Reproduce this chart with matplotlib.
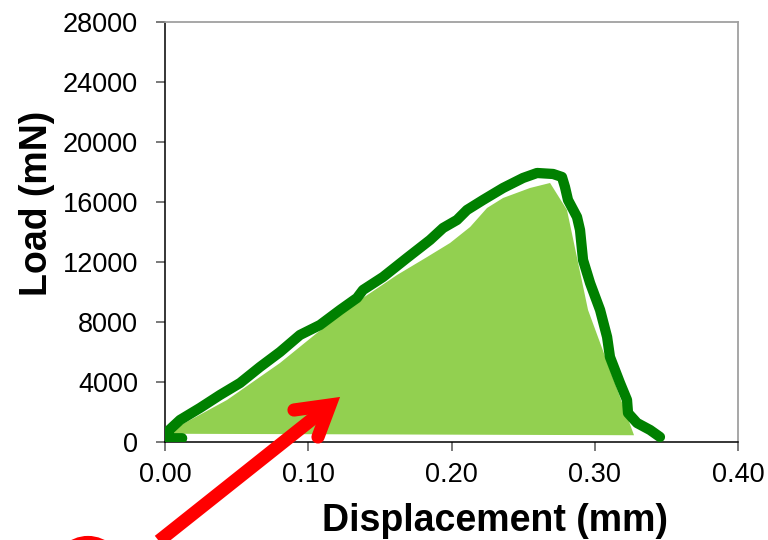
import matplotlib
matplotlib.use("Agg")
import matplotlib.pyplot as plt
from matplotlib.lines import Line2D
from matplotlib.patches import Circle
from matplotlib.ticker import FormatStrFormatter

plt.rcParams['font.family'] = ['Liberation Sans', 'DejaVu Sans']

# Measured load-displacement curve
disp_mm = [0.012, 0.002, 0.003, 0.0105, 0.0244, 0.0384, 0.0524, 0.0663, 0.0803, 0.0942,
           0.1082, 0.1222, 0.134, 0.1382, 0.1522, 0.1689, 0.185, 0.1941, 0.2038,
           0.2108, 0.222, 0.236, 0.2499, 0.2597, 0.2709, 0.2771, 0.2792, 0.2813,
           0.2876, 0.2897, 0.2918, 0.2967, 0.3037, 0.3086, 0.3106, 0.3176, 0.3225,
           0.3232, 0.3295, 0.3386, 0.3455]
load_mN = [250, 250, 800, 1467, 2267, 3133, 3933, 5000, 6000, 7133,
           7800, 8800, 9600, 10133, 11000, 12267, 13467, 14267, 14800,
           15467, 16133, 16933, 17600, 17933, 17867, 17667, 17000, 16133,
           15000, 14133, 12133, 10600, 8800, 7000, 5667, 3933, 2800,
           1933, 1267, 800, 333]

# Shaded work-of-fracture area
area_disp = [0.0, 0.0433, 0.0803, 0.1061, 0.1361, 0.162, 0.183, 0.199, 0.213,
             0.2248, 0.236, 0.2548, 0.2688, 0.2806, 0.2953, 0.3274]
area_load = [550, 2800, 5267, 7267, 9467, 11133, 12333, 13267, 14333,
             15600, 16267, 16933, 17267, 15467, 8800, 450]

x_ticks = [0.0, 0.1, 0.2, 0.3, 0.4]
y_ticks = [0, 4000, 8000, 12000, 16000, 20000, 24000, 28000]

fig = plt.figure(figsize=(7.68, 5.4), dpi=100)
ax = fig.add_axes([0.2148, 0.1815, 0.7462, 0.7778])

ax.fill(area_disp, area_load, color='#92D050', lw=0, zorder=2)
ax.plot(disp_mm, load_mN, color='#008000', lw=7.4,
        solid_joinstyle='round', solid_capstyle='round', zorder=3)

ax.set_xlim(0, 0.4)
ax.set_ylim(0, 28000)
ax.set_xticks(x_ticks)
ax.set_yticks(y_ticks)
ax.xaxis.set_major_formatter(FormatStrFormatter('%.2f'))

for side in ('left', 'bottom'):
    ax.spines[side].set_color('black')
    ax.spines[side].set_linewidth(1.1)
for side in ('top', 'right'):
    ax.spines[side].set_color('#A0A0A0')
    ax.spines[side].set_linewidth(1.3)

ax.tick_params(axis='both', direction='out', length=6.5, width=1.1,
               color='#555555', labelsize=19.5, labelcolor='black')
ax.tick_params(axis='y', pad=13)
ax.tick_params(axis='x', pad=8)

ax.set_xlabel('Displacement (mm)', fontsize=27, fontweight='bold')
ax.set_ylabel('Load (mN)', fontsize=27, fontweight='bold')
ax.xaxis.set_label_coords(0.576, -0.145)
ax.yaxis.set_label_coords(-0.192, 0.567)


def fig_px(xs, ys):
    """Convert figure pixel coordinates (origin bottom-left) to inches."""
    return [v / fig.dpi for v in xs], [v / fig.dpi for v in ys]


# Red pointer towards the shaded area
join = (330, 135)
sx, sy = fig_px([135, join[0] - 2], [-20, join[1] - 1.6])
fig.add_artist(Line2D(sx, sy, transform=fig.dpi_scale_trans, color='#FF0000',
                      lw=9.5, solid_capstyle='butt', zorder=5))
hx, hy = fig_px([294, join[0], 318], [130, join[1], 103])
fig.add_artist(Line2D(hx, hy, transform=fig.dpi_scale_trans, color='#FF0000',
                      lw=9.5, solid_capstyle='round', solid_joinstyle='miter',
                      zorder=5))

fig.add_artist(Circle((0.88, -0.32), 0.34, transform=fig.dpi_scale_trans,
                      fill=False, ec='#FF0000', lw=3, clip_on=False))

fig.savefig('out.png', dpi=100)
